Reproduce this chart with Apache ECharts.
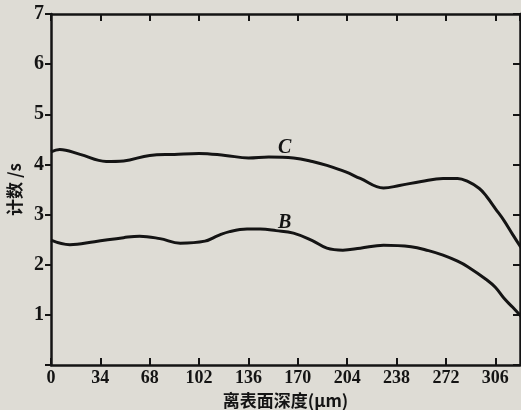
<!DOCTYPE html>
<html>
<head>
<meta charset="utf-8">
<script src="https://cdn.jsdelivr.net/npm/echarts@6/dist/echarts.min.js"></script>
<style>
  html, body { margin: 0; padding: 0; background: #dedcd5; }
  #main { width: 521px; height: 410px; }
</style>
</head>
<body>
<div id="main"></div>
<script>
// 离表面深度 (um) 与计数
var depthC = [0, 6, 20, 38, 50, 68, 85, 102, 120, 136, 150, 167, 180, 190, 203, 213, 229, 240, 255, 270, 280, 287, 295, 300, 306, 312, 318, 324];
var countC = [4.25, 4.3, 4.2, 4.06, 4.07, 4.18, 4.2, 4.22, 4.18, 4.13, 4.15, 4.13, 4.06, 3.98, 3.85, 3.72, 3.53, 3.58, 3.66, 3.72, 3.72, 3.66, 3.52, 3.36, 3.12, 2.88, 2.6, 2.33];
var depthB = [0, 13, 30, 50, 61, 75, 89, 106, 115, 123, 135, 144, 155, 167, 180, 190, 201, 213, 229, 248, 260, 270, 280, 287, 300, 306, 312, 318, 324];
var countB = [2.49, 2.4, 2.46, 2.54, 2.57, 2.52, 2.43, 2.47, 2.58, 2.66, 2.71, 2.71, 2.68, 2.63, 2.48, 2.33, 2.29, 2.33, 2.39, 2.36, 2.28, 2.19, 2.07, 1.96, 1.7, 1.55, 1.33, 1.15, 0.96];
var xTicks = [0, 34, 68, 102, 136, 170, 204, 238, 272, 306];
var yTicks = [0, 1, 2, 3, 4, 5, 6, 7];

function pairs(xs, ys) {
    var out = [];
    for (var i = 0; i < xs.length; i++) out.push([xs[i], ys[i]]);
    return out;
}

var ink = '#141414';
var numFont = "'Liberation Serif', 'Times New Roman', serif";
var cjkFont = 'Noto Sans CJK SC';

var chart = echarts.init(document.getElementById('main'));
var option = {
    backgroundColor: '#dedcd5',
    animation: false,
    grid: { left: 51, right: 1, top: 14, bottom: 45, containLabel: false, outerBoundsMode: 'none' },
    xAxis: [{
        type: 'value',
        min: 0, max: 323, interval: 34,
        name: '离表面深度(μm)',
        nameLocation: 'middle',
        nameGap: 20,
        nameTextStyle: { color: ink, fontSize: 17, fontWeight: 'bold', fontFamily: cjkFont },
        axisLine: { onZero: false, lineStyle: { color: ink, width: 2.5 } },
        axisTick: { inside: true, length: 7, lineStyle: { color: ink, width: 2 } },
        axisLabel: {
            color: ink, fontSize: 18, fontWeight: 'bold', fontFamily: numFont, margin: 4,
            showMaxLabel: false
        },
        splitLine: { show: false }
    }, {
        type: 'value',
        position: 'top',
        min: 0, max: 323, interval: 34,
        axisLine: { onZero: false, lineStyle: { color: ink, width: 2.5 } },
        axisTick: { inside: true, length: 7, lineStyle: { color: ink, width: 2 } },
        axisLabel: { show: false },
        splitLine: { show: false }
    }],
    yAxis: [{
        type: 'value',
        min: 0, max: 7, interval: 1,
        name: '计数 /s',
        nameLocation: 'middle',
        nameRotate: 90,
        nameGap: 27,
        nameTextStyle: { color: ink, fontSize: 17, fontWeight: 'bold', fontFamily: cjkFont },
        axisLine: { show: true, onZero: false, lineStyle: { color: ink, width: 2.5 } },
        axisTick: { show: true, inside: false, length: 6, lineStyle: { color: ink, width: 2 } },
        axisLabel: {
            color: ink, fontSize: 20, fontWeight: 'bold', fontFamily: numFont, margin: 7,
            formatter: function (v) { return v === 0 ? '' : String(v); }
        },
        splitLine: { show: false }
    }, {
        type: 'value',
        position: 'right',
        min: 0, max: 7, interval: 1,
        axisLine: { show: true, onZero: false, lineStyle: { color: ink, width: 2.5 } },
        axisTick: { show: true, inside: true, length: 7, lineStyle: { color: ink, width: 2 } },
        axisLabel: { show: false },
        splitLine: { show: false }
    }],
    series: [{
        name: 'C',
        type: 'line',
        smooth: 0.4,
        showSymbol: false,
        data: pairs(depthC, countC),
        lineStyle: { color: ink, width: 3 },
        markPoint: {
            symbol: 'circle', symbolSize: 0,
            label: { show: true, formatter: 'C', color: ink, fontSize: 20, fontWeight: 'bold', fontStyle: 'italic', fontFamily: numFont },
            data: [{ coord: [161, 4.34] }]
        }
    }, {
        name: 'B',
        type: 'line',
        smooth: 0.4,
        showSymbol: false,
        data: pairs(depthB, countB),
        lineStyle: { color: ink, width: 3 },
        markPoint: {
            symbol: 'circle', symbolSize: 0,
            label: { show: true, formatter: 'B', color: ink, fontSize: 20, fontWeight: 'bold', fontStyle: 'italic', fontFamily: numFont },
            data: [{ coord: [161, 2.83] }]
        }
    }]
};
chart.setOption(option);
</script>
</body>
</html>
